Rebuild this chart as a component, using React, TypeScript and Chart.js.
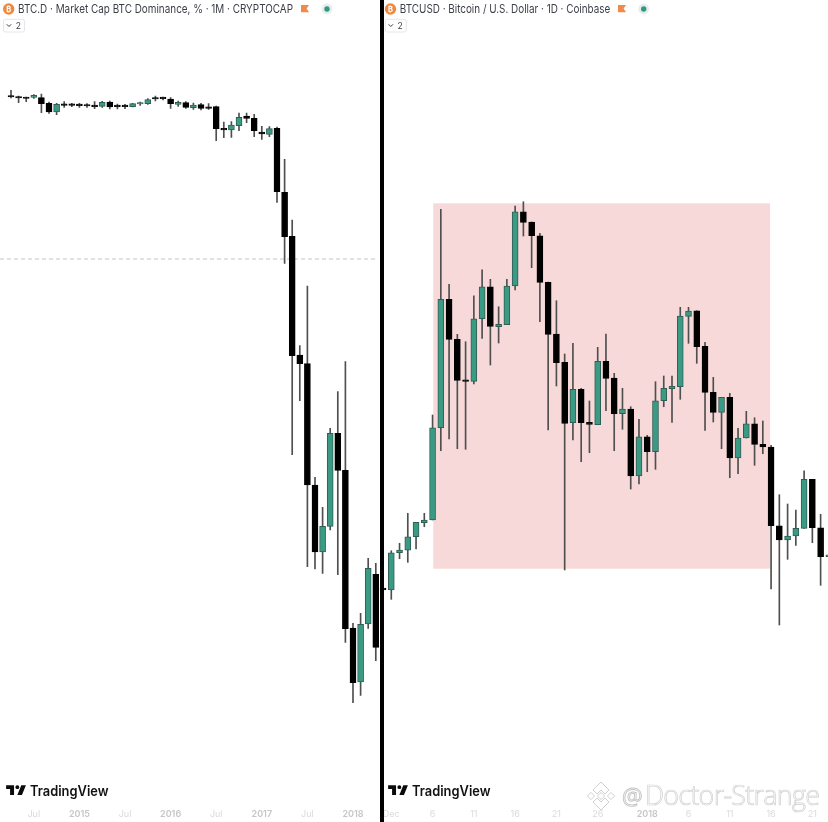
import React, { useEffect, useRef } from "react";
import Chart from "chart.js/auto";

// ---- BTC.D monthly ----
const domMonths = ["2014-04","2014-05","2014-06","2014-07","2014-08","2014-09","2014-10","2014-11","2014-12","2015-01","2015-02","2015-03","2015-04","2015-05","2015-06","2015-07","2015-08","2015-09","2015-10","2015-11","2015-12","2016-01","2016-02","2016-03","2016-04","2016-05","2016-06","2016-07","2016-08","2016-09","2016-10","2016-11","2016-12","2017-01","2017-02","2017-03","2017-04","2017-05","2017-06","2017-07","2017-08","2017-09","2017-10","2017-11","2017-12","2018-01","2018-02","2018-03","2018-04"];
const domOpen = [90.45,90.30,90.23,90.27,90.23,89.67,88.80,89.60,89.54,89.50,89.47,89.40,89.37,89.80,89.40,89.40,89.33,89.60,89.63,90.20,90.20,90.10,89.57,89.73,89.23,89.53,89.27,89.33,87.17,87.00,87.43,88.40,88.17,86.80,86.57,87.17,80.77,76.37,64.50,63.63,51.50,44.80,47.37,56.67,52.97,37.20,31.80,37.60,42.57];
const domHigh = [90.97,90.40,90.30,90.53,90.60,89.80,89.67,89.83,89.67,89.67,89.63,89.83,89.87,89.90,89.60,89.57,89.67,89.80,90.13,90.40,90.30,90.23,89.90,89.83,89.70,89.67,89.63,89.40,87.80,87.83,88.70,88.70,88.57,87.37,87.33,87.30,84.07,78.00,65.43,71.40,52.27,49.27,57.17,60.83,63.83,37.67,38.67,44.17,43.67];
const domLow = [90.20,89.73,89.83,90.17,88.73,88.67,88.53,89.27,89.33,89.27,89.27,89.13,89.27,89.10,89.10,89.13,89.30,89.47,89.57,89.90,90.00,89.17,89.37,89.17,89.07,89.00,89.07,85.93,86.23,86.27,86.93,87.73,86.33,86.07,86.33,79.77,73.67,54.53,59.93,43.33,43.10,42.67,47.00,42.53,35.77,29.73,30.47,37.17,33.93];
const domClose = [90.30,90.20,90.15,90.47,89.63,88.80,89.57,89.47,89.47,89.44,89.40,89.33,89.77,89.30,89.34,89.34,89.63,89.66,90.03,90.10,90.14,89.63,89.77,89.27,89.50,89.17,89.17,87.13,87.00,87.50,88.27,88.17,86.93,86.60,87.13,80.83,76.33,64.43,63.63,51.50,44.80,47.37,56.67,52.97,37.13,31.73,37.57,43.17,35.27];
const domTicks: Record<string, string> = { "2014-07": "Jul", "2015-01": "2015", "2015-07": "Jul", "2016-01": "2016", "2016-07": "Jul", "2017-01": "2017", "2017-07": "Jul", "2018-01": "2018" };
const domLevel = 74.1;

// ---- BTCUSD daily ----
const usdDays = ["11-30","12-01","12-02","12-03","12-04","12-05","12-06","12-07","12-08","12-09","12-10","12-11","12-12","12-13","12-14","12-15","12-16","12-17","12-18","12-19","12-20","12-21","12-22","12-23","12-24","12-25","12-26","12-27","12-28","12-29","12-30","12-31","01-01","01-02","01-03","01-04","01-05","01-06","01-07","01-08","01-09","01-10","01-11","01-12","01-13","01-14","01-15","01-16","01-17","01-18","01-19","01-20","01-21","01-22","01-23"];
const usdOpen = [10300,10250,11182,11243,11582,11933,12000,14307,17517,16517,15507,15467,17032,17832,16832,16882,17850,19707,19450,19107,17942,16650,15942,14432,15267,14442,14382,15967,15550,14657,14775,13100,14082,13707,14982,15282,15332,17092,17232,16342,15192,14692,15067,13550,14050,14407,13892,13825,11857,11500,11600,11792,13017,11807,11082];
const usdHigh = [10400,11232,11418,12168,11942,12168,14625,19767,17892,16642,16457,17607,18257,18017,17332,18017,19850,19957,19450,19167,17950,17482,16150,16417,15292,14975,16317,16650,15667,15292,14832,14517,14117,15457,15600,15600,17317,17317,17232,16442,15567,15067,15167,14292,14717,14557,14475,13867,12632,12400,12250,13232,13017,12142,11132];
const usdLow = [10125,10017,11032,10942,11275,11832,12000,13732,14025,13782,13767,15400,16542,15875,16425,16882,17750,19100,18307,16957,14250,15350,10750,14000,13457,13682,14382,14732,13732,14267,12775,12900,13207,13267,14832,14442,15017,16417,15917,14242,14450,13782,13057,13157,14050,13367,13657,10275,9375,11017,11367,11792,11432,10367,11075];
const usdClose = [10250,11182,11250,11582,11942,12000,14307,17517,16517,15492,15467,17032,17832,16842,16892,17850,19707,19442,19107,17942,16642,15932,14417,15267,14432,14392,15967,15542,14657,14775,13100,14082,13707,14982,15292,15342,17100,17225,16332,15192,14692,15067,13550,14050,14407,13892,13825,11857,11500,11600,11792,13017,11807,11082,11132];
const usdTicks: Record<string, string> = { "12-01": "Dec", "12-06": "6", "12-11": "11", "12-16": "16", "12-21": "21", "12-26": "26", "01-01": "2018", "01-06": "6", "01-11": "11", "01-16": "16", "01-21": "21" };
const zoneStart = "12-06";
const zoneEnd = "01-16";
const zoneTop = 19917;
const zoneBottom = 10782;

const GREEN = "#3a9a83";
const GREEN_EDGE = "#2f5e55";
const BLACK = "#000000";
const WICK = "#4f4f4f";

type CandleSet = {
  labels: string[];
  open: number[];
  high: number[];
  low: number[];
  close: number[];
  ticks: Record<string, string>;
  yMin: number;
  yMax: number;
  padLeft: number;
  padRight: number;
  bodyWidth: number;
  backdrop?: any;
};

function candleConfig(s: CandleSet): any {
  const up = s.open.map((o, i) => s.close[i] >= o);
  return {
    type: "bar",
    data: {
      labels: s.labels,
      datasets: [
        {
          label: "body",
          order: 0,
          grouped: false,
          data: s.open.map((o, i) => [o, s.close[i]]),
          backgroundColor: up.map((u) => (u ? GREEN : BLACK)),
          borderColor: up.map((u) => (u ? GREEN_EDGE : BLACK)),
          borderWidth: 1,
          borderSkipped: false,
          barThickness: s.bodyWidth,
          minBarLength: 1.5,
        },
        {
          label: "wick",
          order: 1,
          grouped: false,
          data: s.low.map((l, i) => [l, s.high[i]]),
          backgroundColor: WICK,
          barThickness: 1,
        },
      ],
    },
    options: {
      animation: false,
      responsive: false,
      maintainAspectRatio: false,
      layout: { padding: { left: s.padLeft, right: s.padRight, top: 0, bottom: 0 } },
      plugins: { legend: { display: false }, tooltip: { enabled: false }, title: { display: false } },
      scales: {
        x: {
          grid: { display: false, drawTicks: false },
          border: { display: false },
          afterFit: (scale: any) => {
            scale.height = 17;
          },
          ticks: {
            autoSkip: false,
            maxRotation: 0,
            minRotation: 0,
            padding: 4,
            callback: (_v: any, i: number) => s.ticks[s.labels[i]] ?? null,
            color: (c: any) => (/^\d{4}$/.test(String(c.tick?.label)) ? "#c6c6c6" : "#dadada"),
            font: (c: any) => ({
              family: "Inter, 'Noto Sans', sans-serif",
              size: 9,
              weight: /^\d{4}$/.test(String(c.tick?.label)) ? "600" : "400",
            }),
          },
        },
        y: { display: false, min: s.yMin, max: s.yMax },
      },
    },
    plugins: s.backdrop ? [s.backdrop] : [],
  };
}

const levelLine = {
  id: "levelLine",
  beforeDatasetsDraw(chart: any) {
    const y = chart.scales.y.getPixelForValue(domLevel);
    const c = chart.ctx;
    c.save();
    c.strokeStyle = "#c4c4c4";
    c.lineWidth = 1;
    c.setLineDash([4, 3]);
    c.beginPath();
    c.moveTo(0, y);
    c.lineTo(chart.chartArea.right - 1.5, y);
    c.stroke();
    c.restore();
  },
};

const zoneBox = {
  id: "zoneBox",
  beforeDatasetsDraw(chart: any) {
    const x = chart.scales.x;
    const y = chart.scales.y;
    const x0 = x.getPixelForValue(usdDays.indexOf(zoneStart)) + 0.7;
    const x1 = x.getPixelForValue(usdDays.indexOf(zoneEnd)) - 1;
    const y0 = y.getPixelForValue(zoneTop);
    const y1 = y.getPixelForValue(zoneBottom);
    const c = chart.ctx;
    c.save();
    c.fillStyle = "#f7d9d9";
    c.fillRect(x0, y0, x1 - x0, y1 - y0);
    c.restore();
  },
};

const TV_PATH = "M14 6H2v6h6v9h6V6Zm12 15h-7l6-15h7l-6 15Zm-7-9a3 3 0 1 0 0-6 3 3 0 0 0 0 6Z";
const UI_FONT = "Inter, 'Noto Sans', sans-serif";

function Header({ x, text, textWidth, flagX, dotX }: { x: number; text: string; textWidth: number; flagX: number; dotX: number }) {
  return (
    <svg style={{ position: "absolute", left: 0, top: 0 }} width={828} height={40}>
      <circle cx={x} cy={9} r={5.7} fill="#ee8a3f" />
      <text x={x} y={11.6} fontSize={7.5} fontWeight={700} fill="#fff" textAnchor="middle" fontFamily={UI_FONT}>₿</text>
      <text x={x + 9.3} y={13} fontSize={11.6} fill="#3b3e47" fontFamily={UI_FONT} textLength={textWidth} lengthAdjust="spacingAndGlyphs">{text}</text>
      <path d={`M${flagX} 5h8l-2.4 3.6L${flagX + 8} 12.3h-8Z`} fill="#ee8a4a" />
      <circle cx={dotX} cy={9} r={5.4} fill="#e9ebee" />
      <circle cx={dotX} cy={9} r={2.7} fill="#2f9a80" />
      <rect x={x - 5.2} y={19.3} width={21} height={12.7} rx={2} fill="#fff" stroke="#e4e6ea" />
      <path d={`M${x - 1.9} 24.3l2.2 2.2 2.2-2.2`} fill="none" stroke="#3b3e47" strokeWidth={1} />
      <text x={x + 7} y={29.3} fontSize={8.5} fill="#3b3e47" fontFamily={UI_FONT}>2</text>
    </svg>
  );
}

function Logo({ x }: { x: number }) {
  return (
    <svg style={{ position: "absolute", left: x, top: 780 }} width={112} height={22}>
      <g transform="translate(-1.2,1.2) scale(0.66)"><path d={TV_PATH} fill="#0b0b0b" /></g>
      <text x={24} y={15.6} fontSize={14} fontWeight={600} fill="#111" fontFamily={UI_FONT} textLength={78.5} lengthAdjust="spacingAndGlyphs">TradingView</text>
    </svg>
  );
}

function Watermark() {
  const cx = 601;
  const cy = 796;
  const d = (px: number, py: number, r: number) => `M${px} ${py - r}L${px + r} ${py}L${px} ${py + r}L${px - r} ${py}Z`;
  return (
    <svg style={{ position: "absolute", left: 0, top: 0, pointerEvents: "none" }} width={828} height={822}>
      <g fill="#fff" stroke="#d0d0d0" strokeWidth={1}>
        <path d={`M${cx} ${cy - 14}L${cx + 8} ${cy - 6}L${cx + 4} ${cy - 2}L${cx} ${cy - 6}L${cx - 4} ${cy - 2}L${cx - 8} ${cy - 6}Z`} />
        <path d={`M${cx} ${cy + 14}L${cx + 8} ${cy + 6}L${cx + 4} ${cy + 2}L${cx} ${cy + 6}L${cx - 4} ${cy + 2}L${cx - 8} ${cy + 6}Z`} />
        <path d={d(cx - 10, cy, 3.6)} />
        <path d={d(cx + 10, cy, 3.6)} />
        <path d={d(cx, cy, 3.6)} />
      </g>
      <text x={622} y={805} fontSize={23} fill="#fff" stroke="#c4c4c4" strokeWidth={0.9} fontFamily="'Open Sans', sans-serif" fontWeight={400}>@</text>
      <text x={645} y={804.5} fontSize={27} fill="#fff" stroke="#d0d0d0" strokeWidth={0.7} fontFamily="'Open Sans', sans-serif" fontWeight={300} textLength={175} lengthAdjust="spacing">Doctor-Strange</text>
    </svg>
  );
}

export default function App() {
  const leftRef = useRef<HTMLCanvasElement>(null);
  const rightRef = useRef<HTMLCanvasElement>(null);

  useEffect(() => {
    const left = new Chart(
      leftRef.current as HTMLCanvasElement,
      candleConfig({
        labels: domMonths,
        open: domOpen,
        high: domHigh,
        low: domLow,
        close: domClose,
        ticks: domTicks,
        yMin: 19.5,
        yMax: 100,
        padLeft: 7.2,
        padRight: 0.4,
        bodyWidth: 6,
        backdrop: levelLine,
      })
    );
    const right = new Chart(
      rightRef.current as HTMLCanvasElement,
      candleConfig({
        labels: usdDays,
        open: usdOpen,
        high: usdHigh,
        low: usdLow,
        close: usdClose,
        ticks: usdTicks,
        yMin: 4875,
        yMax: 25000,
        padLeft: 0.9,
        padRight: 0,
        bodyWidth: 6,
        backdrop: zoneBox,
      })
    );
    return () => {
      left.destroy();
      right.destroy();
    };
  }, []);

  return (
    <div style={{ position: "fixed", left: 0, top: 0, width: 828, height: 822, overflow: "hidden", background: "#fff" }}>
      <canvas ref={leftRef} width={380} height={822} style={{ position: "absolute", left: 0, top: 0, width: 380, height: 822 }} />
      <canvas ref={rightRef} width={455} height={822} style={{ position: "absolute", left: 378, top: 0, width: 455, height: 822 }} />
      <div style={{ position: "absolute", left: 380.3, top: 0, width: 4, height: 822, background: "#000" }} />
      <Header x={8.7} text="BTC.D · Market Cap BTC Dominance, % · 1M · CRYPTOCAP" textWidth={275} flagX={301} dotX={327} />
      <Header x={390.5} text="BTCUSD · Bitcoin / U.S. Dollar · 1D · Coinbase" textWidth={210.5} flagX={618} dotX={643.7} />
      <Logo x={6} />
      <Logo x={388} />
      <Watermark />
    </div>
  );
}
